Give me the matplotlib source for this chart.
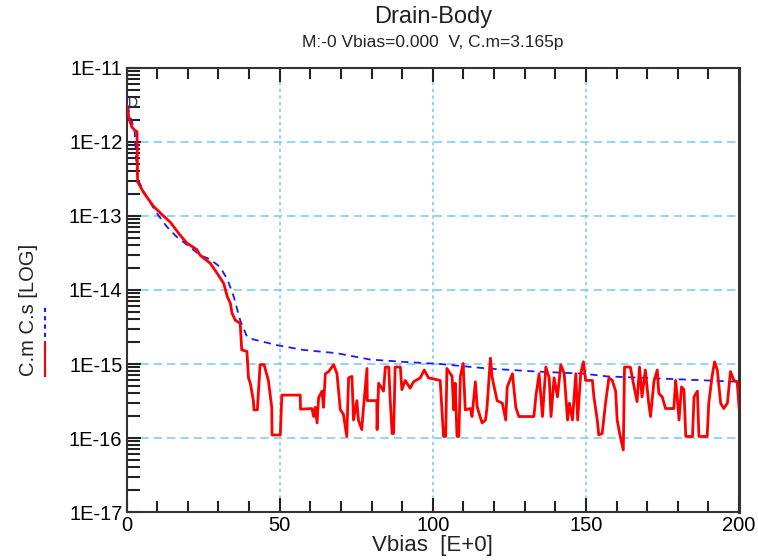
import matplotlib
matplotlib.use('Agg')
import matplotlib.pyplot as plt
from matplotlib.lines import Line2D
from matplotlib.ticker import FixedLocator, LogLocator, FuncFormatter, NullFormatter
import numpy as np

plt.rcParams['font.family'] = ['Liberation Sans', 'DejaVu Sans']

vbias_cm = [0, 0.3, 0.8, 1.7, 2.6, 3.4, 3.6, 5.5, 8.8, 11, 14.2, 17.5, 19.7, 23, 24,
            27.3, 29.5, 31.7, 32.9, 33.9, 34.4, 35.5, 37.1, 37.6, 39.3, 39.8, 40.4,
            41.4, 41.6, 42.7, 43.1, 43.6, 44.9, 46.3, 47.4, 47.5, 50.2, 50.7, 56.7,
            56.8, 60.5, 61.1, 61.6, 62.2, 62.7, 63.8, 64.3, 64.9, 66.0, 67.6, 68.7,
            69.8, 70.8, 71.9, 72.5, 73.6, 74.1, 75.2, 75.7, 76.8, 77.3, 78.5, 78.6,
            81.7, 81.8, 82.3, 83.9, 84.5, 85.6, 86.1, 86.7, 87.2, 87.7, 89.4, 89.9,
            91.0, 92.6, 93.7, 95.9, 97.2, 98.6, 102.4, 103.5, 104.2, 104.6, 106.3,
            106.8, 107.3, 107.9, 108.5, 109.0, 109.9, 110.6, 112.3, 112.8, 113.9,
            114.5, 116.1, 117.2, 117.7, 118.8, 119.4, 121.0, 122.7, 123.8, 124.3,
            126.0, 127.1, 128.1, 133.0, 133.7, 134.7, 135.8, 136.9, 138.0, 138.6,
            139.6, 140.7, 141.8, 142.9, 144.0, 144.6, 145.6, 146.7, 147.3, 148.3,
            149.2, 149.9, 152.1, 152.6, 153.7, 154.2, 155.3, 156.4, 157.5, 158.6,
            159.7, 160.2, 161.1, 162.2, 162.6, 164.5, 165.6, 166.7, 167.5, 168.3,
            169.4, 170.5, 171.1, 172.2, 173.3, 173.8, 174.9, 176.0, 178.7, 179.3,
            179.8, 180.4, 181.2, 182.0, 182.6, 184.8, 185.3, 186.4, 186.9, 189.6,
            190.1, 191.2, 192.0, 192.9, 194.0, 195.0, 196.2, 197.2, 198.3, 199.4, 200]
c_m = [3.16e-12, 2.8e-12, 2.1e-12, 1.6e-12, 1.45e-12, 1.38e-12, 2.9e-13, 2.1e-13,
       1.35e-13, 1.1e-13, 8.3e-14, 5.5e-14, 4.3e-14, 3.5e-14, 2.95e-14, 2.3e-14,
       1.7e-14, 1.23e-14, 8.1e-15, 6.6e-15, 4.9e-15, 3.9e-15, 3.55e-15, 1.55e-15,
       1.48e-15, 6.5e-16, 5.5e-16, 3.2e-16, 2.4e-16, 2.4e-16, 4.5e-16, 9.8e-16,
       9.8e-16, 6.0e-16, 2.6e-16, 1.1e-16, 1.1e-16, 3.8e-16, 3.8e-16, 2.45e-16,
       2.5e-16, 1.95e-16, 2.6e-16, 1.6e-16, 3.5e-16, 4.3e-16, 2.6e-16, 7.4e-16,
       7.9e-16, 9.8e-16, 7.4e-16, 2.4e-16, 2.1e-16, 1.05e-16, 6.5e-16, 6.8e-16,
       1.75e-16, 3.2e-16, 1.75e-16, 1.3e-16, 2.4e-16, 8.7e-16, 3.2e-16, 3.2e-16,
       1.3e-16, 5.5e-16, 4.3e-16, 9.1e-16, 9.1e-16, 3.2e-16, 1.15e-16, 1.15e-16,
       9.1e-16, 9.1e-16, 4.5e-16, 6.0e-16, 4.7e-16, 5.75e-16, 6.5e-16, 8.3e-16,
       6.5e-16, 6.0e-16, 1.05e-16, 1.05e-16, 8.7e-16, 6.8e-16, 2.4e-16, 5.5e-16,
       1.05e-16, 1.05e-16, 6.8e-16, 1.02e-15, 2.4e-16, 2.5e-16, 1.95e-16, 5.75e-16,
       2.6e-16, 1.6e-16, 1.75e-16, 2.6e-16, 1.2e-15, 6.5e-16, 3.2e-16, 2.95e-16,
       1.75e-16, 4.9e-16, 7.4e-16, 2.6e-16, 1.95e-16, 1.95e-16, 3.8e-16, 7.4e-16,
       1.95e-16, 9.1e-16, 6.5e-16, 1.95e-16, 6.5e-16, 3.6e-16, 9.8e-16, 7.4e-16,
       1.75e-16, 2.95e-16, 1.75e-16, 7.4e-16, 1.75e-16, 7.4e-16, 1.07e-15, 6.0e-16,
       6.0e-16, 3.6e-16, 1.75e-16, 1.1e-16, 1.15e-16, 2.95e-16, 6.5e-16, 6.0e-16,
       4.3e-16, 1.75e-16, 1.1e-16, 6.9e-17, 9.1e-16, 9.1e-16, 5.2e-16, 3.1e-16,
       9.1e-16, 3.6e-16, 8.3e-16, 2.95e-16, 1.95e-16, 5.75e-16, 8.3e-16, 4.0e-16,
       3.6e-16, 2.5e-16, 2.5e-16, 6.0e-16, 3.6e-16, 1.75e-16, 4.9e-16, 4.5e-16,
       1.05e-16, 1.05e-16, 3.6e-16, 4.3e-16, 1.05e-16, 1.05e-16, 2.95e-16, 6.8e-16,
       1.07e-15, 8.3e-16, 2.95e-16, 2.5e-16, 2.95e-16, 7.9e-16, 6.0e-16, 5.75e-16,
       2.6e-16]

# C.s (simulata)
vbias_cs = [0, 0.8, 2.6, 3.5, 6.6, 9.8, 13.1, 16.4, 19.7, 24, 27.3, 30.5, 32.9, 35,
            37.1, 39.3, 41.4, 49, 57.7, 68.6, 79.5, 90.3, 102.4, 117.7, 134, 149.3,
            156.9, 180.9, 200]
c_s = [4.6e-12, 2.5e-12, 1.45e-12, 3.2e-13, 1.8e-13, 1.1e-13, 7.2e-14, 5.2e-14,
       4.1e-14, 2.95e-14, 2.6e-14, 2.05e-14, 1.4e-14, 8.1e-15, 3.9e-15, 2.35e-15,
       2.15e-15, 1.8e-15, 1.55e-15, 1.4e-15, 1.15e-15, 1.07e-15, 1.0e-15, 8.7e-16,
       7.9e-16, 7.4e-16, 6.8e-16, 6.2e-16, 5.75e-16]

x_major = [0, 50, 100, 150, 200]
y_decades = [1e-17, 1e-16, 1e-15, 1e-14, 1e-13, 1e-12, 1e-11]

fig = plt.figure(figsize=(7.58, 5.6), dpi=100)
ax = fig.add_axes([0.167, 0.0857, 0.808, 0.7929])

ax.set_yscale('log')
ax.set_xlim(0, 200)
ax.set_ylim(1e-17, 1e-11)

grid_col = '#7fcdf5'
for xv in x_major[1:-1]:
    ax.axvline(xv, color=grid_col, lw=1.2, ls=(0, (2, 2)), zorder=1)
for yv in y_decades[1:-1]:
    ax.axhline(yv, color=grid_col, lw=1.2, ls=(0, (5, 3)), zorder=1)

ax.plot(vbias_cs, c_s, color='#1a1aff', lw=1.3, ls=(0, (4, 3)), zorder=3)
ax.plot(vbias_cm, c_m, color='#ff0000', lw=2.0, zorder=4)

ax.text(2.1, 3.4e-12, 'D', fontsize=10, ha='center', va='center', color='#333333')

ax.xaxis.set_major_locator(FixedLocator(x_major))
ax.xaxis.set_minor_locator(FixedLocator(np.arange(0, 201, 10)))
ax.yaxis.set_major_locator(FixedLocator(y_decades))
ax.yaxis.set_minor_locator(LogLocator(base=10, subs=np.arange(2, 10)))
ax.yaxis.set_minor_formatter(NullFormatter())
ax.yaxis.set_major_formatter(FuncFormatter(lambda v, p: '1E%d' % round(np.log10(v))))

ax.tick_params(which='both', direction='in', color='#222222', width=1.5,
               top=True, right=False, labelsize=14.5, pad=3)
ax.tick_params(which='major', length=10)
ax.tick_params(which='minor', length=8)
ax.tick_params(axis='y', which='minor', length=9)

for s in ax.spines.values():
    s.set_color('#333333')
    s.set_linewidth(1.5)
ax.spines['right'].set_linewidth(2.2)

fig.text(0.5 * (0.167 + 0.975), 1 - 17 / 560, 'Drain-Body', fontsize=17,
         ha='center', va='center', color='#222222')
fig.text(0.5 * (0.167 + 0.975), 1 - 42 / 560, 'M:-0 Vbias=0.000  V, C.m=3.165p',
         fontsize=12.5, ha='center', va='center', color='#222222')
fig.text(0.5 * (0.167 + 0.975), 1 - 545 / 560, 'Vbias  [E+0]', fontsize=16,
         ha='center', va='center', color='#222222')

# etichetta asse y con legenda incorporata
fig.text(28 / 758, 1 - 376 / 560, 'C.m C.s [LOG]', fontsize=14.5, rotation=90,
         rotation_mode='anchor', ha='left', va='center', color='#222222')
fig.add_artist(Line2D([45 / 758, 45 / 758], [1 - 376 / 560, 1 - 342 / 560],
                      color='#ff0000', lw=1.5, transform=fig.transFigure))
fig.add_artist(Line2D([45 / 758, 45 / 758], [1 - 337 / 560, 1 - 305 / 560],
                      color='#1a1aff', lw=1.5, ls=(0, (2, 2)), transform=fig.transFigure))

fig.savefig('out.png', dpi=100)
